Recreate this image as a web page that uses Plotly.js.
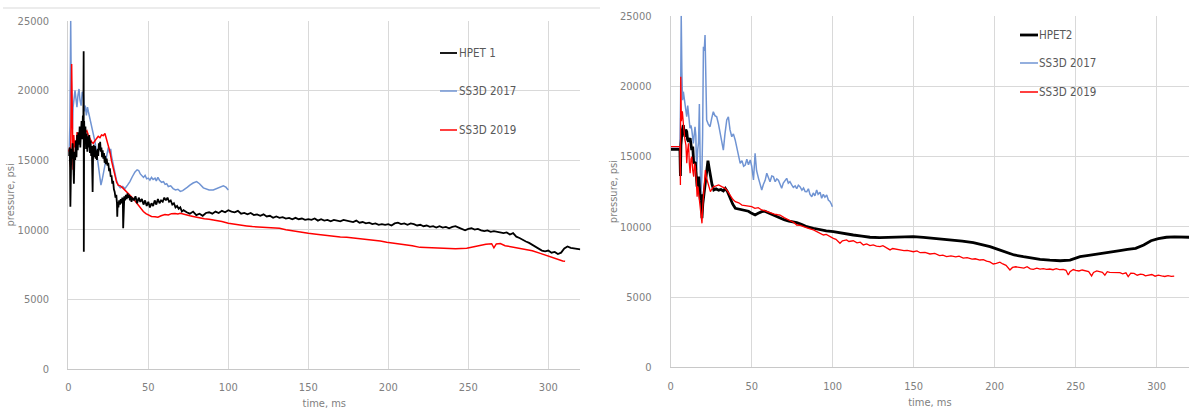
<!DOCTYPE html>
<html>
<head>
<meta charset="utf-8">
<script src="https://cdn.plot.ly/plotly-3.0.1.min.js"></script>
<style>
html,body{margin:0;padding:0;background:#fff;}
#chart{width:1198px;height:414px;}
</style>
</head>
<body>
<div id="chart"></div>
<script>
// ---------- DATA (time ms, pressure psi) ----------
const seriesNamesLeft = ["HPET 1", "SS3D 2017", "SS3D 2019"];
const seriesNamesRight = ["HPET2", "SS3D 2017", "SS3D 2019"];
const xTicks = [0, 50, 100, 150, 200, 250, 300];
const yTicks = [0, 5000, 10000, 15000, 20000, 25000];
const yTickText = ["0", "5000", "10000", "15000", "20000", "25000"];

// Left chart: HPET 1
const hpet1 = [
[0,15600],[0.4,15300],[0.8,15900],[1.1,14600],[1.3,11650],[1.5,14900],[1.9,15800],[2.3,15100],[2.7,16200],[3.1,14800],
[3.5,13300],[3.9,15600],[4.3,15000],[4.7,16400],[5.1,15200],[5.5,16800],[5.9,15700],[6.3,17000],[6.7,16100],[7.1,17400],
[7.5,15900],[7.9,16900],[8.3,17800],[8.7,16500],[9.1,18200],[9.4,17100],[9.6,22800],[9.7,8420],[9.9,17800],[10.3,16300],
[10.7,17400],[11.1,15800],[11.5,16900],[11.9,15600],[12.3,16700],[12.7,15900],[13.1,16800],[13.5,15500],[13.9,16400],[14.3,15300],
[14.7,16000],[15.0,14900],[15.2,12700],[15.5,15400],[15.9,16100],[16.3,15200],[16.7,16000],[17.1,15100],[17.5,15700],[17.9,15000],
[18.3,15800],[18.7,15300],[19.1,16200],[19.5,15700],[19.9,16300],[20.3,15600],[20.7,15900],[21.1,15200],[21.5,15700],[21.9,15100],
[22.3,15500],[22.7,14800],[23.1,15300],[23.5,14700],[24.0,15100],[24.5,14600],[25.0,14800],[25.5,14200],[26.0,14400],[26.5,13800],
[27.0,13900],[27.5,13300],[28.0,13500],[28.5,12900],[29.0,12700],[29.5,12300],[30.0,12500],[30.4,11900],[30.6,10930],[30.9,12000],
[31.3,11600],[31.8,12100],[32.3,11800],[32.8,12200],[33.3,11900],[33.8,12300],[34.1,12000],[34.3,10100],[34.6,12200],[35.0,12400],
[35.5,12100],[36,12500],[36.5,12200],[37,12600],[37.5,12300],[38,12500],[38.5,12100],[39,12400],[39.5,12000],[40,12300],
[41,12100],[42,12400],[43,11900],[44,12300],[45,12000],[46,12200],[47,11800],[48,12100],[49,11700],[50,12000],
[51,11600],[52,11900],[53,11700],[54,12100],[55,11800],[56,12200],[57,11900],[58,12100],[59,12000],[60,12300],
[61,12100],[62,12300],[63,12000],[64,12100],[65,11800],[66,11900],[67,11600],[68,11700],[69,11500],[70,11600],
[71,11300],[72,11400],[74,11250],[76,11150],[78,11300],[80,11050],[82,11150],[84,11000],[86,11200],[88,11250],
[90,11150],[92,11300],[94,11200],[96,11350],[98,11250],[100,11400],[102,11300],[104,11250],[106,11350],[108,11150],
[110,11200],[112,11100],[114,11200],[116,11050],[118,11100],[120,11000],[122,11100],[124,10950],[126,11000],[128,10850],
[130,10950],[132,10850],[134,10900],[136,10800],[138,10850],[140,10750],[142,10850],[144,10750],[146,10800],[148,10700],
[150,10750],[152,10700],[154,10800],[156,10650],[158,10750],[160,10650],[162,10700],[164,10600],[166,10700],[168,10650],
[170,10600],[172,10700],[174,10650],[176,10600],[178,10550],[180,10650],[182,10500],[184,10550],[186,10450],[188,10500],
[190,10400],[192,10450],[194,10350],[196,10400],[198,10350],[200,10400],[202,10300],[204,10450],[206,10500],[208,10400],
[210,10450],[212,10350],[214,10450],[216,10400],[218,10300],[220,10350],[222,10250],[224,10300],[226,10200],[228,10250],
[230,10150],[232,10250],[234,10150],[236,10200],[238,10100],[240,10200],[242,10250],[244,10150],[246,10050],[248,9950],
[250,10050],[252,10100],[254,10000],[256,10050],[258,9950],[260,9900],[262,9950],[264,9850],[266,9900],[268,9850],
[270,9800],[272,9750],[274,9800],[276,9650],[278,9750],[280,9500],[282,9400],[284,9250],[286,9150],[288,9050],
[290,8900],[292,8750],[294,8600],[296,8500],[298,8450],[300,8500],[302,8350],[304,8400],[306,8250],[308,8350],
[310,8650],[312,8800],[314,8700],[316,8650],[318,8600],[320,8580]
];

// Left chart: SS3D 2017
const ss2017L = [
[0,15600],[0.5,15800],[1.0,17500],[1.5,25000],[1.8,21000],[2.2,18500],[2.6,17200],[3.0,18800],[3.5,19500],[4.2,20000],
[4.8,19400],[5.4,18800],[6.0,19600],[6.7,20100],[7.3,19300],[8.0,18900],[8.7,19900],[9.4,19700],[10.0,18500],[10.6,18900],
[11.3,18200],[12.0,18800],[12.5,18500],[13.3,18100],[14.0,17800],[14.6,17500],[15.3,17100],[16.0,16700],[16.7,16300],[17.4,15800],
[18.1,15200],[18.8,14600],[19.5,14000],[20.4,13200],[21.2,13600],[22.0,14100],[22.5,14400],[23.3,15000],[24.2,15600],[25.0,15900],
[25.8,15500],[26.5,15800],[27.0,15300],[28.0,14700],[29.1,13900],[30.0,13600],[31.2,13200],[32.5,13000],[34.0,13100],[35.4,12950],
[37.0,13200],[38.5,13450],[40.0,13800],[41.7,14150],[43.0,14300],[44.0,14250],[45.0,14000],[46.0,13850],[47.0,13750],[48.0,13900],
[49.0,13650],[50.0,13700],[51.0,13550],[52.0,13750],[53.0,13600],[54.2,13700],[55.0,13500],[56.0,13750],[57.0,13550],[58.3,13400],
[59.5,13450],[60.5,13250],[61.5,13300],[62.5,13100],[64.0,13150],[65.5,12950],[67.0,12850],[68.5,12900],[70.0,12750],[71.5,12800],
[73.0,12900],[74.5,13050],[76.0,13200],[78.0,13350],[80.2,13450],[82.0,13300],[84.4,13000],[86.0,12950],[88.0,12850],[90.6,12850],
[92.5,12950],[94.5,13050],[96.9,13150],[98.5,13050],[100,12850]
];

// Left chart: SS3D 2019
const ss2019L = [
[0,15600],[0.5,15700],[1.0,15900],[1.4,14500],[1.8,18500],[2.1,21900],[2.4,19000],[2.7,16500],[3.0,14300],[3.4,16800],
[3.9,15900],[4.5,16400],[5.0,16100],[5.5,17000],[6.2,16500],[7.0,16700],[7.7,17100],[8.5,17400],[9.2,17200],[10.0,17300],
[10.8,17000],[11.6,17100],[12.5,16800],[13.5,16600],[14.5,16300],[15.6,16200],[16.6,16400],[17.7,16550],[18.7,16700],[19.8,16600],
[20.8,16800],[21.9,16750],[22.9,16900],[24.0,16500],[25.0,16100],[26.0,15600],[27.1,14900],[28.2,14300],[29.2,13700],[30.2,13400],
[31.2,13200],[32.5,13150],[34.0,13000],[35.4,12850],[37.5,12600],[39.6,12350],[41.5,12100],[43.8,11750],[45.5,11500],[46.9,11300],
[48.5,11150],[50.0,11050],[52,10950],[54.2,10930],[56,10900],[58,11000],[60.4,11080],[62.5,11050],[64.5,11150],[66.7,11160],
[68.5,11120],[70,11170],[72,11100],[74,11050],[76,11000],[78,10950],[80,10900],[82.3,10820],[85,10780],[88,10750],
[90.6,10700],[93,10650],[96,10580],[100,10460],[104,10380],[108,10300],[111.5,10270],[115,10220],[119,10180],[123,10150],
[127,10120],[132,10100],[136,10000],[140,9920],[145,9830],[150,9740],[155,9680],[160,9600],[165,9540],[170,9480],
[174,9450],[180,9380],[185,9300],[190,9250],[195,9180],[199,9090],[204,9020],[210,8960],[215,8850],[219.8,8730],
[225,8700],[230,8680],[236.5,8660],[242,8640],[249,8660],[253,8760],[257.3,8880],[261,8950],[264.6,8990],[266,8700],
[267.5,8980],[270,9000],[273,8850],[276,8780],[280,8720],[285,8620],[290,8490],[295,8300],[299.4,8110],[303,7960],
[306,7880],[309,7750],[310.5,7730]
];

// Right chart: HPET2
const hpet2 = [
[0,15500],[5.7,15500],[6.0,13600],[6.3,15800],[7.0,16800],[7.8,17230],[8.3,16700],[8.8,16400],[9.3,16900],[9.9,16760],
[10.4,16200],[11.0,16050],[12.0,16300],[13.0,15450],[13.6,15700],[14.2,14510],[15.2,14600],[16.3,12850],[17.3,13560],[18.3,11900],
[18.8,12300],[19.3,10600],[19.8,11600],[20.5,12300],[21.4,13090],[22.2,14300],[23.0,14690],[23.7,14200],[24.5,13560],[25.5,13000],
[26.6,12610],[28,12700],[29.6,12600],[31,12650],[32.5,12550],[33.7,12730],[35,12500],[36.8,12020],[38.3,11600],[39.9,11310],
[42,11250],[44,11190],[46,11150],[48,11100],[50,10950],[52.1,10830],[54,10950],[56.2,11070],[58,11100],[60,11000],
[62.3,10830],[65,10700],[67.5,10600],[70,10500],[73,10400],[77.8,10290],[81,10150],[84,10000],[88.1,9890],[92,9780],
[96,9700],[100.4,9650],[105,9550],[109,9480],[112.7,9410],[118,9330],[123,9250],[129,9230],[135.4,9250],[142,9270],
[149.8,9290],[156,9240],[162.1,9180],[168,9120],[174.4,9050],[180,8980],[186.8,8860],[192,8730],[197.1,8580],[202,8390],
[207.4,8150],[212,7990],[217.7,7870],[222,7780],[228,7680],[234,7620],[240.4,7580],[246.5,7620],[252.7,7870],[258,7960],
[263,8060],[268,8140],[273.2,8220],[277.3,8300],[282,8380],[287,8460],[292,8700],[296.5,9000],[301,9150],[306,9250],
[311,9280],[316,9250],[320,9250]
];

// Right chart: SS3D 2017
const ss2017R = [
[0,15690],[5.7,15690],[6.1,19000],[6.5,25000],[6.9,21000],[7.3,19000],[7.8,19600],[8.3,19200],[8.8,18890],[9.4,18400],
[9.9,17820],[10.5,18610],[11.2,17500],[11.9,17000],[12.5,17200],[13.0,16900],[14.0,15930],[15.0,17110],[15.5,16500],[16.0,14030],
[16.7,15500],[17.2,16000],[17.7,18730],[18.1,15000],[18.5,12000],[19.2,13500],[19.7,16500],[20.2,22800],[20.7,22500],[21.2,23630],
[21.7,20000],[22.2,17590],[23.2,17300],[24.3,17110],[25.3,17700],[26.3,18180],[27.3,17900],[28.4,17820],[29.5,17300],[30.5,16640],
[31.5,16000],[32.5,15450],[33.5,16600],[34.6,17590],[35.6,17820],[36.6,16900],[37.7,16400],[38.7,16600],[39.8,16170],[41,15500],
[42.0,14800],[42.9,14510],[44.0,14700],[45.0,14300],[46,14390],[47,14800],[48,14400],[49.1,14750],[50,14300],[51.1,13320],
[52.1,15220],[53,14000],[54.2,13440],[55,13100],[56.2,12610],[57.2,13000],[58.3,13300],[59.3,13800],[60.3,13500],[61.3,13200],
[62.4,13600],[63.4,13560],[64.5,13200],[65.5,13400],[66.5,13300],[67.5,13000],[68.5,12730],[69.5,13100],[70.5,13300],[71.6,13440],
[72.6,13100],[73.6,13200],[74.7,12970],[75.7,12800],[76.8,12900],[77.8,12700],[78.8,12950],[79.8,12850],[81,12600],[82,12750],
[83,12500],[84,12490],[85,12700],[86,12300],[87.1,12130],[88,12400],[89,12200],[90.1,12610],[91,12300],[92.2,12450],
[93.2,12020],[94.2,12300],[95.2,12100],[96.3,12250],[97.3,11900],[98.3,11800],[99.2,11600],[99.8,11420]
];

// Right chart: SS3D 2019
const ss2019R = [
[0,15690],[5.7,15690],[6.0,12970],[6.2,20670],[6.6,17500],[7.2,18200],[7.8,17350],[8.3,16600],[8.8,16170],[9.4,15800],
[9.9,14510],[10.4,15400],[11.0,15930],[11.5,14500],[12.0,13800],[12.5,14800],[13.0,14980],[13.6,14000],[14.2,13560],[14.7,14500],
[15.2,14270],[15.8,13300],[16.3,12130],[16.8,12850],[17.3,12300],[17.8,11700],[18.3,11190],[18.8,11000],[19.3,10240],[19.8,11500],
[20.3,12370],[20.8,13200],[21.4,14030],[22.0,13500],[22.5,13320],[23.5,13000],[24.5,12490],[25.5,12700],[26.5,12850],[28,12900],
[29.6,12970],[31.5,12850],[33.7,12730],[35.3,12500],[36.8,12250],[38.3,11950],[39.9,11780],[42,11700],[44,11540],[46,11500],
[48,11450],[50,11420],[52,11300],[54,11350],[56.2,11190],[58,11150],[60,11050],[62.3,10950],[64,10900],[66,10850],
[67.5,10830],[70,10650],[72,10550],[74,10400],[76,10300],[77.8,10120],[80,10100],[82,10000],[84,9950],[86,9850],
[88.1,9770],[90,9650],[92,9550],[94.3,9410],[96,9450],[98,9300],[100.4,9170],[102,9100],[104.5,8820],[106,9000],
[108.6,9060],[110,8950],[112.7,9000],[115,8850],[117,8900],[118.9,8700],[121,8780],[123,8650],[125,8700],[127,8620],
[129.2,8580],[131,8650],[133,8500],[135.4,8350],[137,8450],[139,8400],[141.5,8380],[144,8300],[146,8320],[148,8250],
[149.8,8220],[152,8280],[154,8150],[157,8180],[160,8060],[163,8100],[166,7950],[168,7980],[170.3,7870],[173,7920],
[176,7850],[178,7900],[180.6,7770],[183,7800],[186,7700],[188,7720],[190.9,7630],[193,7660],[195,7550],[197,7500],
[199.1,7350],[201,7400],[203.2,7480],[205,7350],[207,7250],[209.4,6920],[211,7100],[213,7150],[215.6,7110],[218,7050],
[220,7150],[222,7000],[223.8,6970],[226,7050],[228,6980],[230,7020],[232,6960],[234,6990],[236,6940],[238,7010],
[240,6950],[242.3,6970],[244,6900],[245.4,6560],[246.5,6800],[248.5,6950],[250,6900],[252,6850],[254,6920],[256.7,6870],
[258,6800],[259.8,6500],[261,6750],[263,6850],[265,6820],[266.5,6750],[268,6550],[269.5,6800],[271,6750],[273.2,6730],
[275,6700],[277.3,6730],[279,6650],[281,6720],[282.4,6450],[284,6700],[286,6680],[288,6550],[290,6620],[291.8,6590],
[293,6500],[295,6560],[297,6600],[299,6480],[301,6550],[303,6500],[305,6460],[307,6520],[309,6470],[310.8,6490]
];

// ---------- STYLE ----------
const W = 1198, H = 414;
const px = v => v / W;           // pixel -> paper x
const py = v => 1 - v / H;       // pixel -> paper y
const BLACK = "#000000", BLUE = "#7094d3", RED = "#ff0000";
const FONT = "'Liberation Sans Narrow', 'Arial Narrow', 'DejaVu Sans Condensed', 'Liberation Sans', sans-serif";
const TICKCOL = "#808080";

function tr(data, name, color, width, xa, ya) {
  return {
    type: "scatter", mode: "lines", name: name,
    x: data.map(d => d[0]), y: data.map(d => d[1]),
    xaxis: xa, yaxis: ya,
    line: {color: color, width: width},
    showlegend: false, hoverinfo: "x+y+name"
  };
}

const traces = [
  tr(ss2017L, seriesNamesLeft[1], BLUE, 1.5, "x", "y"),
  tr(ss2019L, seriesNamesLeft[2], RED, 1.5, "x", "y"),
  tr(hpet1, seriesNamesLeft[0], BLACK, 1.8, "x", "y"),
  tr(ss2017R, seriesNamesRight[1], BLUE, 1.5, "x2", "y2"),
  tr(hpet2, seriesNamesRight[0], BLACK, 2.8, "x2", "y2"),
  tr(ss2019R, seriesNamesRight[2], RED, 1.3, "x2", "y2")
];

function xax(domain, anchor) {
  return {
    domain: domain, anchor: anchor, range: [0, 320], tickvals: xTicks,
    showgrid: true, gridcolor: "#d9d9d9", gridwidth: 1,
    showline: true, linecolor: "#c8c8c8", linewidth: 1,
    zeroline: false, ticks: "", ticklabelstandoff: 8,
    tickfont: {family: FONT, size: 11, color: TICKCOL},
    title: {text: "time, ms", font: {family: FONT, size: 11, color: TICKCOL}, standoff: 6},
    automargin: false, fixedrange: true
  };
}
function yax(domain, anchor) {
  return {
    domain: domain, anchor: anchor, range: [0, 25000], tickvals: yTicks, ticktext: yTickText,
    showgrid: true, gridcolor: "#d9d9d9", gridwidth: 1,
    showline: true, linecolor: "#d0d0d0", linewidth: 1,
    zeroline: false, ticks: "", ticklabelstandoff: 16,
    tickfont: {family: FONT, size: 11, color: TICKCOL},
    title: {text: "pressure, psi", font: {family: FONT, size: 11, color: TICKCOL}, standoff: 0},
    automargin: false, fixedrange: true
  };
}

// custom legends (Excel-like short sample line + label)
const legL = [{name: seriesNamesLeft[0], color: BLACK, y: 53, w: 1.8},
              {name: seriesNamesLeft[1], color: BLUE, y: 91, w: 1.5},
              {name: seriesNamesLeft[2], color: RED, y: 130, w: 1.5}];
const legR = [{name: seriesNamesRight[0], color: BLACK, y: 35, w: 2.8},
              {name: seriesNamesRight[1], color: BLUE, y: 63, w: 1.5},
              {name: seriesNamesRight[2], color: RED, y: 92, w: 1.5}];
const shapes = [
  {type: "line", xref: "paper", yref: "paper", x0: px(3), x1: px(600), y0: py(8), y1: py(8),
   line: {color: "#d9d9d9", width: 1}}
];
const annotations = [];
function addLegend(items, lx0, lx1, tx) {
  items.forEach(it => {
    shapes.push({type: "line", xref: "paper", yref: "paper", x0: px(lx0), x1: px(lx1),
                 y0: py(it.y), y1: py(it.y), line: {color: it.color, width: it.w}});
    annotations.push({xref: "paper", yref: "paper", x: px(tx), y: py(it.y), xanchor: "left", yanchor: "middle",
                      text: it.name, showarrow: false, font: {family: FONT, size: 11.5, color: "#595959"}});
  });
}
addLegend(legL, 440, 457, 457);
addLegend(legR, 1020, 1038, 1037);

const layout = {
  width: W, height: H,
  margin: {l: 0, r: 0, t: 0, b: 0},
  paper_bgcolor: "#ffffff", plot_bgcolor: "#ffffff",
  showlegend: false,
  xaxis: xax([px(68.3), px(580.3)], "y"),
  yaxis: yax([py(369), py(20.7)], "x"),
  xaxis2: xax([px(670.7), px(1189.1)], "y2"),
  yaxis2: yax([py(367.3), py(15.8)], "x2"),
  shapes: shapes, annotations: annotations
};

Plotly.newPlot("chart", traces, layout, {displayModeBar: false, staticPlot: true});
</script>
</body>
</html>
